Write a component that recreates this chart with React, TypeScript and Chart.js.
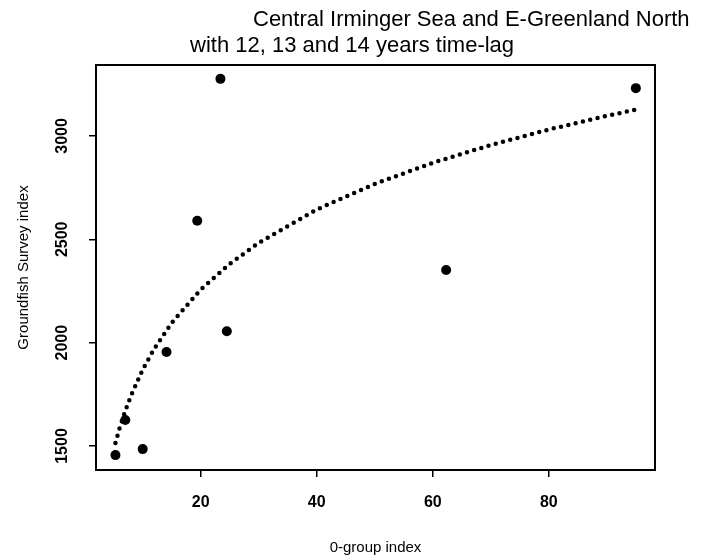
import React, { useEffect, useRef } from "react";
import { Chart, registerables } from "chart.js";

Chart.register(...registerables);

// Observed points (0-group index vs Groundfish Survey index)
const pointX = [5.3, 7.0, 10.0, 14.1, 19.4, 23.4, 24.5, 62.3, 95.0];
const pointY = [1456, 1626, 1485, 1955, 2590, 3276, 2055, 2351, 3231];

// Fitted curve
const curveX = [5.3, 6, 7, 8, 10, 12, 15, 20, 25, 30, 40, 50, 60, 70, 80, 90, 95];
const curveY = [1515, 1585, 1671, 1745, 1870, 1971, 2096, 2257, 2381, 2483, 2644, 2768, 2870, 2956, 3031, 3097, 3127];

const xTicks = [20, 40, 60, 80];
const yTicks = [1500, 2000, 2500, 3000];
const xRange = [1.95, 98.3];
const yRange = [1384, 3343];

const titleLines = ["Central Irminger Sea and E-Greenland North", "with 12, 13 and 14 years time-lag"];
const xTitle = "0-group index";
const yTitle = "Groundfish Survey index";

const FONT = '"Liberation Sans", Arial, Helvetica, sans-serif';

const boxPlugin = {
  id: "boxPlugin",
  afterDraw(chart: any) {
    const { ctx, chartArea } = chart;
    ctx.save();
    ctx.strokeStyle = "#000";
    ctx.lineWidth = 2;
    ctx.strokeRect(chartArea.left, chartArea.top, chartArea.right - chartArea.left, chartArea.bottom - chartArea.top);
    ctx.restore();
  },
};

const titlePlugin = {
  id: "titlePlugin",
  afterDraw(chart: any) {
    const { ctx } = chart;
    ctx.save();
    ctx.fillStyle = "#000";
    ctx.font = `22px ${FONT}`;
    ctx.textBaseline = "middle";
    ctx.textAlign = "left";
    ctx.fillText(titleLines[0], 253, 20);
    ctx.fillText(titleLines[1], 190, 46);
    ctx.restore();
  },
};

export default function App() {
  const ref = useRef<HTMLCanvasElement | null>(null);

  useEffect(() => {
    if (!ref.current) return;
    const chart = new Chart(ref.current, {
      type: "scatter",
      data: {
        datasets: [
          {
            label: "fit",
            data: curveX.map((x, i) => ({ x, y: curveY[i] })),
            showLine: true,
            borderColor: "#000",
            borderWidth: 4.5,
            borderDash: [0, 7.5],
            borderCapStyle: "round",
            pointRadius: 0,
            fill: false,
            tension: 0,
          },
          {
            label: "data",
            data: pointX.map((x, i) => ({ x, y: pointY[i] })),
            backgroundColor: "#000",
            borderColor: "#000",
            pointRadius: 5,
            pointBorderWidth: 0,
          },
        ],
      },
      options: {
        responsive: false,
        animation: false,
        layout: { padding: { left: 0, top: 65, right: 62, bottom: 0 } },
        plugins: {
          legend: { display: false },
          title: { display: false },
          tooltip: { enabled: false },
        },
        scales: {
          x: {
            type: "linear",
            min: xRange[0],
            max: xRange[1],
            afterBuildTicks: (scale: any) => {
              scale.ticks = xTicks.map((v) => ({ value: v }));
            },
            afterFit: (scale: any) => {
              scale.height = 90;
            },
            border: { display: false },
            grid: { display: true, drawOnChartArea: false, drawTicks: true, tickLength: 7, color: "#000", lineWidth: 1.5 },
            ticks: {
              color: "#000",
              font: { family: FONT, size: 16, weight: "bold" },
              padding: 16,
              maxRotation: 0,
              minRotation: 0,
            },
            title: {
              display: true,
              text: xTitle,
              color: "#000",
              font: { family: FONT, size: 15 },
              padding: { top: 0, bottom: 3 },
            },
          },
          y: {
            type: "linear",
            min: yRange[0],
            max: yRange[1],
            afterBuildTicks: (scale: any) => {
              scale.ticks = yTicks.map((v) => ({ value: v }));
            },
            afterFit: (scale: any) => {
              scale.width = 96;
            },
            border: { display: false },
            grid: { display: true, drawOnChartArea: false, drawTicks: true, tickLength: 7, color: "#000", lineWidth: 1.5 },
            ticks: {
              color: "#000",
              font: { family: FONT, size: 16, weight: "bold" },
              padding: 9,
              minRotation: 90,
              maxRotation: 90,
              crossAlign: "center",
              callback: (v: any) => String(v),
            },
            title: {
              display: true,
              text: yTitle,
              color: "#000",
              font: { family: FONT, size: 15 },
              padding: { top: 15, bottom: 0 },
            },
          },
        },
      } as any,
      plugins: [boxPlugin, titlePlugin],
    });
    return () => chart.destroy();
  }, []);

  return (
    <div style={{ position: "fixed", left: 0, top: 0, width: 717, height: 560, background: "#fff" }}>
      <canvas ref={ref} width={717} height={560} style={{ display: "block" }} />
    </div>
  );
}
